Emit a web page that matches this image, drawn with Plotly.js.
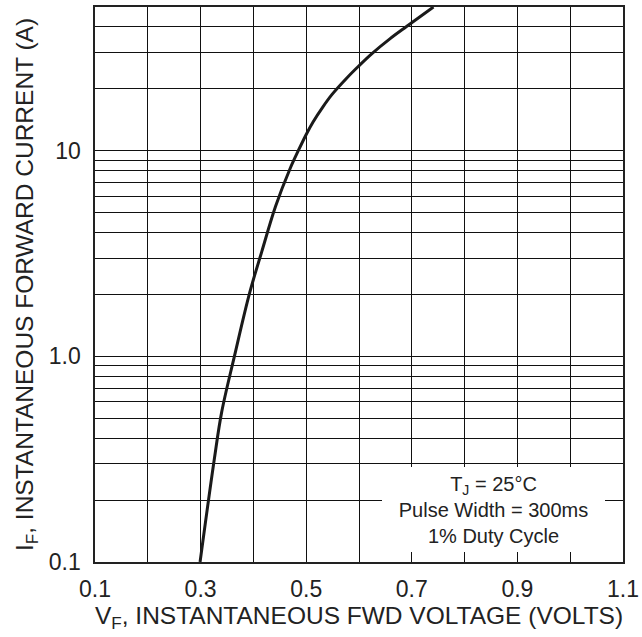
<!DOCTYPE html>
<html>
<head>
<meta charset="utf-8">
<script src="https://cdn.plot.ly/plotly-3.0.1.min.js"></script>
<style>
html,body{margin:0;padding:0;background:#fff;}
#chart{width:642px;height:637px;}
</style>
</head>
<body>
<div id="chart"></div>
<script>
// Forward voltage (V) vs instantaneous forward current (A)
const voltage = [0.299, 0.326, 0.340, 0.364, 0.393, 0.416, 0.442, 0.469, 0.485, 0.500, 0.513, 0.532, 0.549, 0.577, 0.600, 0.624, 0.659, 0.690, 0.741];
const current = [0.1, 0.317, 0.537, 1.0, 2.04, 3.24, 5.37, 8.13, 10, 12.0, 13.8, 16.4, 18.8, 22.6, 25.9, 29.6, 35.1, 40.2, 50];

// Labelled ticks and unlabelled grid values
const xLabelVals = [0.1, 0.3, 0.5, 0.7, 0.9, 1.1];
const xLabels = ['0.1', '0.3', '0.5', '0.7', '0.9', '1.1'];
const xMinorVals = [0.2, 0.4, 0.6, 0.8, 1.0];
const yLabelVals = [0.1, 1, 10, 50];
const yLabels = ['0.1', '1.0', '10', '50'];
const yMinorVals = [0.2, 0.3, 0.4, 0.5, 0.6, 0.7, 0.8, 0.9, 2, 3, 4, 5, 6, 7, 8, 9, 20, 30, 40];

const xTitle = 'V<sub>F</sub>, INSTANTANEOUS FWD VOLTAGE (VOLTS)';
const yTitle = 'I<sub>F</sub>, INSTANTANEOUS FORWARD CURRENT (A)';
const noteText = 'T<sub>J</sub> = 25°C<br>Pulse Width = 300ms<br>1% Duty Cycle';

const ink = '#222222';
const gridInk = '#111111';
const fontFam = '"Liberation Sans", Arial, Helvetica, sans-serif';

const trace = {
  x: voltage,
  y: current,
  type: 'scatter',
  mode: 'lines',
  line: {color: '#1a1a1a', width: 3, shape: 'spline', smoothing: 1},
  hoverinfo: 'skip'
};

const layout = {
  width: 642,
  height: 637,
  margin: {l: 95, r: 19, t: 7, b: 75, pad: 0},
  paper_bgcolor: '#ffffff',
  plot_bgcolor: '#ffffff',
  showlegend: false,
  font: {family: fontFam, color: ink},
  xaxis: {
    type: 'linear',
    range: [0.1, 1.1],
    tickmode: 'array',
    tickvals: xLabelVals,
    ticktext: xLabels,
    ticks: '',
    ticklabelstandoff: 6,
    tickfont: {size: 23, color: ink, family: fontFam},
    showgrid: true,
    gridcolor: gridInk,
    gridwidth: 1,
    minor: {tickmode: 'array', tickvals: xMinorVals, showgrid: true, gridcolor: gridInk, gridwidth: 1, ticks: ''},
    showline: true,
    linecolor: ink,
    linewidth: 1.6,
    mirror: true,
    zeroline: false,
    title: {text: xTitle, font: {size: 24.5, color: ink, family: fontFam}, standoff: 4}
  },
  yaxis: {
    type: 'log',
    range: [Math.log10(0.1), Math.log10(50)],
    tickmode: 'array',
    tickvals: yLabelVals,
    ticktext: yLabels,
    ticks: '',
    ticklabelstandoff: 8,
    tickfont: {size: 23, color: ink, family: fontFam},
    showgrid: true,
    gridcolor: gridInk,
    gridwidth: 1,
    minor: {tickmode: 'array', tickvals: yMinorVals, showgrid: true, gridcolor: gridInk, gridwidth: 1, ticks: ''},
    showline: true,
    linecolor: ink,
    linewidth: 1.6,
    mirror: true,
    zeroline: false,
    title: {text: yTitle, font: {size: 24.5, color: ink, family: fontFam}, standoff: 8}
  },
  annotations: [{
    xref: 'paper', yref: 'paper',
    x: 0.7547, y: 0.0946,
    xanchor: 'center', yanchor: 'middle',
    text: noteText,
    showarrow: false,
    align: 'center',
    bgcolor: '#ffffff',
    borderpad: 0,
    borderwidth: 0,
    width: 223,
    height: 85,
    font: {size: 20, color: ink, family: fontFam}
  }]
};

Plotly.newPlot('chart', [trace], layout, {staticPlot: true, displayModeBar: false});
</script>
</body>
</html>
